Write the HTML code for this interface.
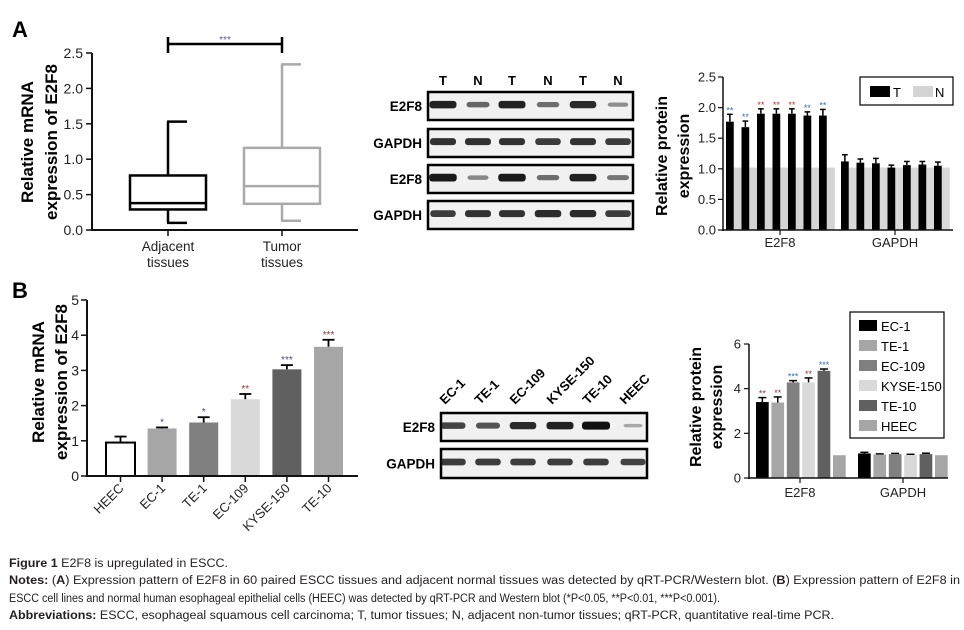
<!DOCTYPE html>
<html><head><meta charset="utf-8"><style>
body{margin:0;background:#fff}
svg{display:block;font-family:"Liberation Sans",Arial,sans-serif}
</style></head><body>
<svg id="fig" width="964" height="630" viewBox="0 0 964 630">
<g id="pa">
<text x="12" y="37" font-size="22" font-weight="bold">A</text>
</g>
<g id="pb">
<text x="12" y="298" font-size="22" font-weight="bold">B</text>
</g>
<g font-size="11.5" fill="#231f20">
<text x="9" y="567" textLength="219" lengthAdjust="spacingAndGlyphs"><tspan font-weight="bold">Figure 1</tspan> E2F8 is upregulated in ESCC.</text>
<text x="9" y="584" textLength="951" lengthAdjust="spacingAndGlyphs"><tspan font-weight="bold">Notes:</tspan> (<tspan font-weight="bold">A</tspan>) Expression pattern of E2F8 in 60 paired ESCC tissues and adjacent normal tissues was detected by qRT-PCR/Western blot. (<tspan font-weight="bold">B</tspan>) Expression pattern of E2F8 in</text>
<text x="9" y="602" textLength="711" lengthAdjust="spacingAndGlyphs">ESCC cell lines and normal human esophageal epithelial cells (HEEC) was detected by qRT-PCR and Western blot (*P&lt;0.05, **P&lt;0.01, ***P&lt;0.001).</text>
<text x="9" y="619" textLength="825" lengthAdjust="spacingAndGlyphs"><tspan font-weight="bold">Abbreviations:</tspan> ESCC, esophageal squamous cell carcinoma; T, tumor tissues; N, adjacent non-tumor tissues; qRT-PCR, quantitative real-time PCR.</text>
</g>
</svg>
<script>
// ---- Panel A boxplot data
const boxCats = ["Adjacent tissues", "Tumor tissues"];
const boxMin = [0.10, 0.13];
const boxQ1 = [0.29, 0.37];
const boxMed = [0.38, 0.62];
const boxQ3 = [0.77, 1.16];
const boxMax = [1.53, 2.34];
const boxTicks = ["0.0","0.5","1.0","1.5","2.0","2.5"];
// ---- Panel A protein data
const protACats = ["E2F8","GAPDH"];
const protAT_E2F8 = [1.77,1.68,1.90,1.90,1.90,1.87,1.87];
const protAErr_E2F8 = [0.12,0.10,0.08,0.08,0.08,0.06,0.10];
const protAT_GAPDH = [1.12,1.10,1.09,1.02,1.06,1.07,1.05];
const protAErr_GAPDH = [0.11,0.06,0.08,0.04,0.06,0.05,0.06];
const protAN = [1.02,1.02,1.02,1.02,1.02,1.02,1.02];
const protATicks = ["0.0","0.5","1.0","1.5","2.0","2.5"];
// ---- Panel B mRNA data
const mrnaCats = ["HEEC","EC-1","TE-1","EC-109","KYSE-150","TE-10"];
const mrnaVals = [0.95,1.35,1.52,2.18,3.03,3.67];
const mrnaErr = [0.17,0.03,0.15,0.15,0.12,0.20];
const mrnaStars = ["","*","*","**","***","***"];
const mrnaTicks = ["0","1","2","3","4","5"];
// ---- Panel B protein data
const protBLines = ["EC-1","TE-1","EC-109","KYSE-150","TE-10","HEEC"];
const protB_E2F8 = [3.40,3.38,4.28,4.28,4.80,1.02];
const protBErr_E2F8 = [0.20,0.25,0.08,0.20,0.08,0];
const protB_GAPDH = [1.10,1.05,1.07,1.03,1.07,1.02];
const protBErr_GAPDH = [0.05,0.03,0.03,0.03,0.04,0];
const protBStars = ["**","**","***","**","***",""];
const protBTicks = ["0","2","4","6"];

const NS="http://www.w3.org/2000/svg";
function mk(parent,tag,attrs,text){const e=document.createElementNS(NS,tag);for(const k in attrs)e.setAttribute(k,attrs[k]);if(text!==undefined)e.textContent=text;parent.appendChild(e);return e;}
const pa=document.getElementById('pa'), pb=document.getElementById('pb');
const lineC="#111";

// ===== Panel A boxplot
(function(){
  const y0=230,y1=53,vmax=2.5, y=v=>y0-(y0-y1)*v/vmax;
  const xs=[168,282];
  const ax=mk(pa,'line',{x1:92,y1:y1,x2:92,y2:y0+1,stroke:lineC,'stroke-width':2});
  
  const bx=mk(pa,'line',{x1:91,y1:y0,x2:358,y2:y0,stroke:lineC,'stroke-width':2});
  
  boxTicks.forEach((t,i)=>{const v=parseFloat(t);
    mk(pa,'line',{x1:86,x2:92,y1:y(v),y2:y(v),stroke:lineC,'stroke-width':1.5});
    const tl=mk(pa,'text',{x:83,y:y(v)+5,'font-size':14,'text-anchor':'end',fill:'#222'},t);
    });
  const lab=[["Adjacent","tissues"],["Tumor","tissues"]];
  boxCats.forEach((c,i)=>{const x=xs[i],col=i==0?'#000':'#aaa';
    mk(pa,'line',{x1:x,x2:x,y1:y0,y2:y0+6,stroke:lineC,'stroke-width':1.5});
    lab[i].forEach((l,j)=>{const t=mk(pa,'text',{x:x,y:251+j*16,'font-size':13.5,'text-anchor':'middle',fill:'#222'},l);
      });
    const g=mk(pa,'g',{stroke:col,'stroke-width':2.5,fill:'none'});
    
    mk(g,'rect',{x:x-38,y:y(boxQ3[i]),width:76,height:y(boxQ1[i])-y(boxQ3[i])});
    mk(g,'line',{x1:x-38,x2:x+38,y1:y(boxMed[i]),y2:y(boxMed[i])});
    mk(g,'line',{x1:x,x2:x,y1:y(boxQ3[i]),y2:y(boxMax[i])});
    mk(g,'line',{x1:x,x2:x,y1:y(boxQ1[i]),y2:y(boxMin[i])});
    mk(g,'line',{x1:x-1,x2:x+19,y1:y(boxMax[i]),y2:y(boxMax[i])});
    mk(g,'line',{x1:x-1,x2:x+19,y1:y(boxMin[i]),y2:y(boxMin[i])});
  });
  const sig=mk(pa,'g',{stroke:'#000','stroke-width':2.5});
  
  mk(sig,'line',{x1:xs[0],x2:xs[1],y1:44,y2:44});
  mk(sig,'line',{x1:xs[0],x2:xs[0],y1:37,y2:53});
  mk(sig,'line',{x1:xs[1],x2:xs[1],y1:37,y2:53});
  const st=mk(pa,'text',{x:225,y:43,'font-size':10,'text-anchor':'middle',fill:'#5a5a9a'},'***');
  
  const yl=mk(pa,'text',{transform:'translate(33,142) rotate(-90)','font-size':17,'font-weight':'bold','text-anchor':'middle'},'Relative mRNA');
  
  const yl2=mk(pa,'text',{transform:'translate(57,142) rotate(-90)','font-size':17,'font-weight':'bold','text-anchor':'middle'},'expression of E2F8');
  
})();

// ===== Western blots helper
function blot(parent,x0,x1,yTop,h,lanes,intens,name,label){
  const g=mk(parent,'g',{});
  
  mk(g,'rect',{x:x0,y:yTop,width:x1-x0,height:h,fill:'#f1f1f1',stroke:'#000','stroke-width':2.5});
  lanes.forEach((lx,i)=>{const w=9+intens[i]*5;
    mk(g,'rect',{x:lx-w,y:yTop+h*0.45-(1.5+intens[i]*2.5),width:2*w,height:2*(1.5+intens[i]*2.5),rx:3,fill:'#111','fill-opacity':0.25+intens[i]*0.75});});
  const t=mk(g,'text',{x:x0-6,y:yTop+h/2+5,'font-size':13.5,'font-weight':'bold','text-anchor':'end'},label);
  
}
const lanesA=[443,478,512,548,583,618];
["T","N","T","N","T","N"].forEach((l,i)=>{const t=mk(pa,'text',{x:lanesA[i],y:85,'font-size':13,'font-weight':'bold','text-anchor':'middle'},l);
  });
blot(pa,428,633,92,28,lanesA,[0.9,0.5,0.9,0.45,0.85,0.25],'blot-a-e2f8-1','E2F8');
blot(pa,428,633,129,28,lanesA,[0.8,0.8,0.8,0.75,0.8,0.75],'blot-a-gapdh-1','GAPDH');
blot(pa,428,633,165,28,lanesA,[0.95,0.3,0.95,0.45,0.9,0.4],'blot-a-e2f8-2','E2F8');
blot(pa,428,633,201,28,lanesA,[0.75,0.8,0.8,0.85,0.85,0.75],'blot-a-gapdh-2','GAPDH');
const lanesB=[453,488,523,560,596,633];
protBLines.forEach((l,i)=>{const t=mk(pb,'text',{transform:`translate(${lanesB[i]-8},${405}) rotate(-45)`,'font-size':13,'font-weight':'bold'},l);
  });
blot(pb,441,647,413,28,lanesB,[0.7,0.6,0.85,0.9,1.0,0.1],'blot-b-e2f8','E2F8');
blot(pb,441,647,449,29,lanesB,[0.75,0.75,0.75,0.75,0.75,0.7],'blot-b-gapdh','GAPDH');

// ===== Panel A protein bar chart
(function(){
  const y0=230,y1=77,vmax=2.5,y=v=>y0-(y0-y1)*v/vmax, bw=7.75;
  const starCols=['#3a6fb0','#3a6fb0','#b03a3a','#b03a3a','#b03a3a','#3a6fb0','#3a6fb0'];
  const groups=[{start:726,T:protAT_E2F8,E:protAErr_E2F8,nc:'#d4d4d4',stars:true},{start:841,T:protAT_GAPDH,E:protAErr_GAPDH,nc:'#d9d9d9',stars:false}];
  groups.forEach((gr,gi)=>{
    gr.T.forEach((v,i)=>{const x=gr.start+i*2*bw;
      const n=mk(pa,'rect',{x:x+bw,y:y(protAN[i]),width:bw+0.3,height:y0-y(protAN[i]),fill:gr.nc});
      
      const yt=y(v+gr.E[i]);
      mk(pa,'line',{x1:x+bw/2,x2:x+bw/2,y1:y(v),y2:yt,stroke:'#000','stroke-width':1.5});
      mk(pa,'line',{x1:x+1,x2:x+bw-1,y1:yt,y2:yt,stroke:'#000','stroke-width':1.5});
      const b=mk(pa,'rect',{x:x,y:y(v),width:bw,height:y0-y(v),fill:'#000'});
      
      if(gr.stars){const s=mk(pa,'text',{x:x+bw/2,y:yt-1,'font-size':9,'text-anchor':'middle',fill:starCols[i]},'**');
        }
    });
  });
  mk(pa,'line',{x1:723,y1:y1,x2:723,y2:y0+1,stroke:lineC,'stroke-width':1.5});
  mk(pa,'line',{x1:722,y1:y0,x2:953,y2:y0,stroke:lineC,'stroke-width':1.5});
  protATicks.forEach(t=>{const v=parseFloat(t);
    mk(pa,'line',{x1:718,x2:723,y1:y(v),y2:y(v),stroke:lineC,'stroke-width':1.2});
    const tl=mk(pa,'text',{x:716,y:y(v)+4.5,'font-size':13,'text-anchor':'end',fill:'#222'},t);
    });
  [780,895].forEach((x,i)=>{mk(pa,'line',{x1:x,x2:x,y1:y0,y2:y0+5,stroke:lineC,'stroke-width':1.2});
    const t=mk(pa,'text',{x:x,y:247,'font-size':13,'text-anchor':'middle',fill:'#222'},protACats[i]);
    });
  const lg=mk(pa,'g',{});
  mk(lg,'rect',{x:860,y:77,width:93,height:28,fill:'#fff',stroke:'#000','stroke-width':1.2});
  mk(lg,'rect',{x:870,y:86,width:20,height:11,fill:'#000'});
  mk(lg,'text',{x:893,y:97,'font-size':13},'T');
  mk(lg,'rect',{x:913,y:86,width:20,height:11,fill:'#d4d4d4'});
  mk(lg,'text',{x:935,y:97,'font-size':13},'N');
  const a=mk(pa,'text',{transform:'translate(667,156) rotate(-90)','font-size':16,'font-weight':'bold','text-anchor':'middle'},'Relative protein');
  
  const b=mk(pa,'text',{transform:'translate(689,156) rotate(-90)','font-size':16,'font-weight':'bold','text-anchor':'middle'},'expression');
  
})();

// ===== Panel B mRNA bar chart
(function(){
  const y0=476,y1=300,vmax=5,y=v=>y0-(y0-y1)*v/vmax,bw=29,sp=41.6,x0=106;
  const cols=['#fff','#a6a6a6','#808080','#d9d9d9','#606060','#a6a6a6'];
  const starCol=['','#4a4a8a','#4a4a8a','#8a3a3a','#4a4a8a','#8a3a3a'];
  mrnaCats.forEach((c,i)=>{const x=x0+i*sp,v=mrnaVals[i],yt=y(v+mrnaErr[i]);
    mk(pb,'line',{x1:x+bw/2,x2:x+bw/2,y1:y(v),y2:yt,stroke:'#000','stroke-width':1.8});
    mk(pb,'line',{x1:x+bw/2-6,x2:x+bw/2+6,y1:yt,y2:yt,stroke:'#000','stroke-width':1.8});
    const b=mk(pb,'rect',{x:x,y:y(v),width:bw,height:y0-y(v),fill:cols[i],stroke:i==0?'#000':'none','stroke-width':2});
    
    if(mrnaStars[i]){const s=mk(pb,'text',{x:x+bw/2,y:yt-2,'font-size':10,'text-anchor':'middle',fill:starCol[i]},mrnaStars[i]);
      }
    mk(pb,'line',{x1:x+bw/2,x2:x+bw/2,y1:y0,y2:y0+6,stroke:lineC,'stroke-width':1.5});
    const t=mk(pb,'text',{transform:`translate(${x+bw/2+4},${y0+13}) rotate(-45)`,'font-size':13,'text-anchor':'end',fill:'#222'},c);
    
  });
  mk(pb,'line',{x1:87,y1:y1,x2:87,y2:y0+1,stroke:lineC,'stroke-width':2});
  mk(pb,'line',{x1:86,y1:y0,x2:358,y2:y0,stroke:lineC,'stroke-width':2});
  mrnaTicks.forEach(t=>{const v=parseFloat(t);
    mk(pb,'line',{x1:81,x2:87,y1:y(v),y2:y(v),stroke:lineC,'stroke-width':1.5});
    const tl=mk(pb,'text',{x:79,y:y(v)+5,'font-size':14,'text-anchor':'end',fill:'#222'},t);
    });
  const a=mk(pb,'text',{transform:'translate(44,382) rotate(-90)','font-size':17,'font-weight':'bold','text-anchor':'middle'},'Relative mRNA');
  
  const b=mk(pb,'text',{transform:'translate(67,382) rotate(-90)','font-size':17,'font-weight':'bold','text-anchor':'middle'},'expression of E2F8');
  
})();

// ===== Panel B protein bar chart
(function(){
  const y0=478,y1=344,vmax=6,y=v=>y0-(y0-y1)*v/vmax,bw=12.7,sp=15.4;
  const cols=['#000','#a6a6a6','#808080','#d9d9d9','#606060','#a6a6a6'];
  const starCol=['#8a3a3a','#8a3a3a','#3a6fb0','#8a3a3a','#3a6fb0'];
  const groups=[{start:756,V:protB_E2F8,E:protBErr_E2F8,n:'E2F8'},{start:858,V:protB_GAPDH,E:protBErr_GAPDH,n:'GAPDH'}];
  groups.forEach((gr,gi)=>{gr.V.forEach((v,i)=>{const x=gr.start+i*sp,yt=y(v+gr.E[i]);
    if(gr.E[i]>0){mk(pb,'line',{x1:x+bw/2,x2:x+bw/2,y1:y(v),y2:yt,stroke:'#000','stroke-width':1.5});
      mk(pb,'line',{x1:x+bw/2-4,x2:x+bw/2+4,y1:yt,y2:yt,stroke:'#000','stroke-width':1.5});}
    const b=mk(pb,'rect',{x:x,y:y(v),width:bw,height:y0-y(v),fill:cols[i]});
    
    if(gi==0&&protBStars[i]){const s=mk(pb,'text',{x:x+bw/2,y:yt-1,'font-size':9,'text-anchor':'middle',fill:starCol[i]},protBStars[i]);
      }
  });});
  mk(pb,'line',{x1:749,y1:y1,x2:749,y2:y0+1,stroke:lineC,'stroke-width':1.5});
  mk(pb,'line',{x1:748,y1:y0,x2:948,y2:y0,stroke:lineC,'stroke-width':1.5});
  protBTicks.forEach(t=>{const v=parseFloat(t);
    mk(pb,'line',{x1:744,x2:749,y1:y(v),y2:y(v),stroke:lineC,'stroke-width':1.2});
    const tl=mk(pb,'text',{x:741,y:y(v)+4.5,'font-size':13,'text-anchor':'end',fill:'#222'},t);
    });
  [800,903].forEach((x,i)=>{mk(pb,'line',{x1:x,x2:x,y1:y0,y2:y0+5,stroke:lineC,'stroke-width':1.2});
    const t=mk(pb,'text',{x:x,y:497,'font-size':13,'text-anchor':'middle',fill:'#222'},protACats[i]);
    });
  const lg=mk(pb,'g',{});
  mk(lg,'rect',{x:850,y:312,width:94,height:126,fill:'#fff',stroke:'#000','stroke-width':1.2});
  protBLines.forEach((l,i)=>{const yy=326+i*20;
    const sw=mk(lg,'rect',{x:859,y:yy-6,width:18,height:11,fill:cols[i]});
    
    const tt=mk(lg,'text',{x:881,y:yy+5,'font-size':13},l);
    });
  const a=mk(pb,'text',{transform:'translate(701,407) rotate(-90)','font-size':16,'font-weight':'bold','text-anchor':'middle'},'Relative protein');
  
  const b=mk(pb,'text',{transform:'translate(722,407) rotate(-90)','font-size':16,'font-weight':'bold','text-anchor':'middle'},'expression');
  
})();
</script>
</body></html>
